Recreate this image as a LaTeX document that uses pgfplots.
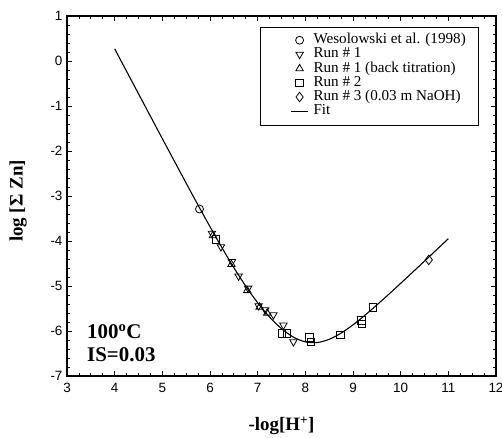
\documentclass[border=0pt]{standalone}
\usepackage{fontspec}
\setmainfont{Liberation Serif}
\newfontfamily\arialf{Liberation Sans}
\usepackage{pgfplots}
\pgfplotsset{compat=1.18}
\begin{document}
\begin{tikzpicture}
\begin{axis}[
  scale only axis, width=429bp, height=360bp,
  xmin=3, xmax=12, ymin=-7, ymax=1,
  xtick={3,...,12}, ytick={-7,...,1},
  minor x tick num=3, minor y tick num=4,
  tick align=inside, major tick length=5bp, minor tick length=3bp,
  axis line style={line width=1.1pt}, every tick/.style={black, line width=0.8pt},
  /pgf/number format/assume math mode=true,
  tick label style={font=\arialf\fontsize{13.5}{14}\selectfont},
  xticklabel style={yshift=-4bp},
  yticklabel style={xshift=-1bp},
  xlabel={\fontsize{19}{20}\selectfont\bfseries -log[H\textsuperscript{+}]},
  ylabel={\fontsize{19}{20}\selectfont\bfseries log [Σ Zn]},
  xlabel style={at={(axis description cs:0.5,-0.139)}, anchor=center},
  ylabel style={at={(axis description cs:-0.114,0.486)}, anchor=center},
  legend style={at={(axis description cs:0.521,0.953)}, anchor=north west,
    draw=none, fill=none, inner sep=0pt,
    font=\fontsize{15.2}{14}\selectfont,
    nodes={text height=10bp, text depth=3bp, inner ysep=0.6bp, inner xsep=2bp},
    row sep=0pt, column sep=3bp},
  legend cell align=left,
  legend image post style={line width=0.8pt},
]
\addplot[only marks, mark=o, mark size=4, mark options={line width=0.8pt}]
  coordinates {(5.78,-3.29)};
\addlegendentry{Wesolowski et al. (1998)}
\addplot[only marks, mark=triangle, mark size=4.3, mark options={rotate=180, line width=0.8pt}]
  coordinates {(6.04,-3.83) (6.23,-4.13) (6.46,-4.46) (6.60,-4.78) (6.80,-5.05)
   (7.02,-5.44) (7.16,-5.53) (7.33,-5.64) (7.54,-5.87) (7.75,-6.24)};
\addlegendentry{Run \# 1}
\addplot[only marks, mark=triangle, mark size=4.3, mark options={line width=0.8pt}]
  coordinates {(6.06,-3.88) (6.45,-4.52) (6.78,-5.10) (7.04,-5.47) (7.20,-5.60)};
\addlegendentry{Run \# 1 (back titration)}
\addplot[only marks, mark=square, mark size=3.8, mark options={line width=0.8pt}]
  coordinates {(6.12,-3.96) (7.51,-6.05) (7.61,-6.05) (8.09,-6.14) (8.12,-6.24)
   (8.73,-6.09) (9.18,-5.76) (9.19,-5.84) (9.42,-5.48)};
\addlegendentry{Run \# 2}
\addplot[only marks, mark=diamond, mark size=4.8, mark options={line width=0.8pt}]
  coordinates {(10.59,-4.42)};
\addlegendentry{Run \# 3 (0.03 m NaOH)}
\addplot[black, line width=1.1pt, smooth, mark=none]
  coordinates {(4,0.271) (4.5,-0.728) (5,-1.725) (5.5,-2.715) (5.75,-3.203)
   (6,-3.682) (6.25,-4.148) (6.5,-4.592) (6.75,-5.003) (7,-5.373) (7.25,-5.690)
   (7.5,-5.948) (7.75,-6.136) (8,-6.241) (8.25,-6.256) (8.5,-6.185) (8.75,-6.047)
   (9,-5.863) (9.25,-5.650) (9.5,-5.422) (9.75,-5.184) (10,-4.941) (10.25,-4.695)
   (10.5,-4.447) (10.75,-4.198) (11,-3.949)};
\addlegendentry{Fit}
\draw[line width=0.8pt] (rel axis cs:0.45,0.9694) rectangle (rel axis cs:0.958,0.697);
\node[anchor=west, font=\fontsize{21}{22}\selectfont\bfseries, inner sep=0pt] at (axis cs:3.42,-6.02) {100$^{\mathbf{o}}$C};
\node[anchor=west, font=\fontsize{21}{22}\selectfont\bfseries, inner sep=0pt] at (axis cs:3.42,-6.53) {IS=0.03};
\end{axis}
\pgfresetboundingbox
\path[use as bounding box] (-67bp,-62bp) rectangle (435bp,376bp);
\end{tikzpicture}
\end{document}
